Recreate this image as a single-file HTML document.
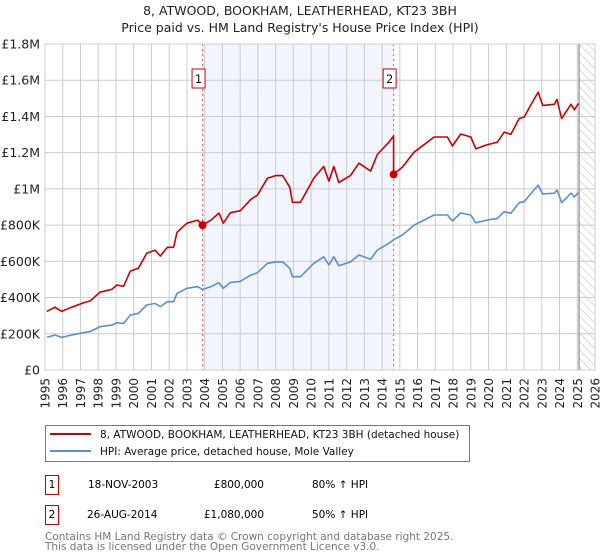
<!DOCTYPE html>
<html><head><meta charset="utf-8">
<style>
body{margin:0;background:#fff;font-family:"Liberation Sans","DejaVu Sans",sans-serif;}
#wrap{position:relative;width:600px;height:560px;overflow:hidden;}
svg text{font-family:"DejaVu Sans","Liberation Sans",sans-serif;}
</style></head>
<body>
<div id="wrap">
<svg id="chart" width="600" height="560" xmlns="http://www.w3.org/2000/svg">
<defs>
<pattern id="hatch" patternUnits="userSpaceOnUse" width="6" height="6" patternTransform="rotate(-45)">
<line x1="0" y1="0" x2="0" y2="6" stroke="#bbb" stroke-width="1"/>
</pattern>
</defs>
<text x="300" y="15" text-anchor="middle" font-size="12.5" fill="#222">8, ATWOOD, BOOKHAM, LEATHERHEAD, KT23 3BH</text>
<text x="300" y="32" text-anchor="middle" font-size="12.5" fill="#222">Price paid vs. HM Land Registry's House Price Index (HPI)</text>
<g id="plot"></g>
<rect x="45.5" y="425.5" width="424" height="36" fill="#fff" stroke="#777" stroke-width="1"/>
<line x1="50" y1="434" x2="91" y2="434" stroke="#cc0000" stroke-width="2"/>
<text x="100" y="438" font-size="10.5" fill="#111">8, ATWOOD, BOOKHAM, LEATHERHEAD, KT23 3BH (detached house)</text>
<line x1="50" y1="451" x2="91" y2="451" stroke="#5b8dd6" stroke-width="2"/>
<text x="100" y="455" font-size="10.5" fill="#111">HPI: Average price, detached house, Mole Valley</text>
<g>
<rect x="45.5" y="475.5" width="13" height="19" fill="#fff" stroke="#cc0000"/>
<text x="52" y="488" text-anchor="middle" font-size="10.5">1</text>
<text x="88" y="488" font-size="10.5">18-NOV-2003</text>
<text x="264" y="488" text-anchor="end" font-size="10.5">£800,000</text>
<text x="312" y="488" font-size="10.5">80% ↑ HPI</text>
</g>
<g>
<rect x="45.5" y="505.5" width="13" height="19" fill="#fff" stroke="#cc0000"/>
<text x="52" y="518" text-anchor="middle" font-size="10.5">2</text>
<text x="87" y="518" font-size="10.5">26-AUG-2014</text>
<text x="264" y="518" text-anchor="end" font-size="10.5">£1,080,000</text>
<text x="312" y="518" font-size="10.5">50% ↑ HPI</text>
</g>
<text x="45" y="540" font-size="10.5" fill="#777">Contains HM Land Registry data © Crown copyright and database right 2025.</text>
<text x="45" y="550" font-size="10.5" fill="#777">This data is licensed under the Open Government Licence v3.0.</text>
</svg>
</div>
<script>
const hpiYears=[1995.1,1995.56,1995.94,1996.5,1997.16,1997.54,1998.1,1998.77,1999.05,1999.43,1999.8,2000.27,2000.74,2001.2,2001.5,2001.9,2002.25,2002.44,2003.0,2003.6,2003.88,2004.35,2004.8,2005.05,2005.45,2006.0,2006.6,2006.97,2007.54,2008.0,2008.4,2008.8,2008.95,2009.4,2010.15,2010.71,2011.0,2011.28,2011.56,2012.22,2012.69,2013.35,2013.73,2014.39,2014.67,2015.14,2015.8,2016.17,2016.93,2017.68,2017.96,2018.43,2019.0,2019.28,2019.94,2020.5,2020.88,2021.26,2021.73,2022.01,2022.39,2022.8,2023.05,2023.71,2023.86,2024.12,2024.65,2024.84,2025.06];
const hpiValues=[180000,193000,180000,193000,206000,212000,239000,248000,261000,257000,303000,313000,359000,368000,350000,377000,377000,423000,451000,460000,445000,460000,482000,451000,483000,489000,524000,537000,589000,597000,597000,561000,515000,515000,589000,625000,580000,625000,576000,597000,635000,611000,662000,700000,720000,745000,800000,818000,856000,856000,823000,867000,856000,813000,828000,837000,874000,866000,924000,929000,975000,1021000,972000,976000,994000,924000,976000,956000,979000];
const saleYears=[2003.88,2014.65];
const salePrices=[800000,1080000];
const saleLabels=["1","2"];
const yTicks=[0,200000,400000,600000,800000,1000000,1200000,1400000,1600000,1800000];
const yTickLabels=["£0","£200K","£400K","£600K","£800K","£1M","£1.2M","£1.4M","£1.6M","£1.8M"];
const xTicks=[1995,1996,1997,1998,1999,2000,2001,2002,2003,2004,2005,2006,2007,2008,2009,2010,2011,2012,2013,2014,2015,2016,2017,2018,2019,2020,2021,2022,2023,2024,2025,2026];
const forecastStart=2025.1;

const X0=45,X1=595,Y0=370,Y1=44,xmin=1995,xmax=2026,ymax=1800000;
const xs=v=>X0+(v-xmin)/(xmax-xmin)*(X1-X0);
const ys=v=>Y0-v/ymax*(Y0-Y1);
const NS="http://www.w3.org/2000/svg";
const g=document.getElementById('plot');
function mk(tag,attrs,parent){const e=document.createElementNS(NS,tag);for(const k in attrs)e.setAttribute(k,attrs[k]);(parent||g).appendChild(e);return e;}
function hpiAt(t){for(let i=0;i<hpiYears.length-1;i++){if(t>=hpiYears[i]&&t<=hpiYears[i+1]){const f=(t-hpiYears[i])/(hpiYears[i+1]-hpiYears[i]);return hpiValues[i]+f*(hpiValues[i+1]-hpiValues[i]);}}return t<hpiYears[0]?hpiValues[0]:hpiValues[hpiValues.length-1];}

let r=mk('rect',{x:xs(saleYears[0]),y:Y1,width:xs(saleYears[1])-xs(saleYears[0]),height:Y0-Y1,fill:'#f2f5fd'});


xTicks.forEach((t,i)=>{
 const l=mk('line',{x1:xs(t),x2:xs(t),y1:Y1,y2:Y0,stroke:'#cccccc','stroke-width':1});
 
 
 const tx=mk('text',{x:0,y:0,'font-size':12,'text-anchor':'end',fill:'#222',transform:`translate(${xs(t)+4.5},${Y0+8}) rotate(-90)`});
 tx.textContent=t;
 
 
});
yTicks.forEach((t,i)=>{
 const l=mk('line',{x1:X0,x2:X1,y1:ys(t),y2:ys(t),stroke:'#cccccc','stroke-width':1});
 
 
 const tx=mk('text',{x:40,y:ys(t)+4.5,'font-size':12.5,'text-anchor':'end',fill:'#222'});
 tx.textContent=yTickLabels[i];
 
 
});
let h=mk('rect',{x:xs(forecastStart),y:Y1,width:X1-xs(forecastStart),height:Y0-Y1,fill:'url(#hatch)'});


let hl=mk('line',{x1:xs(forecastStart),x2:xs(forecastStart),y1:Y1,y2:Y0,stroke:'#888','stroke-width':1.2});



saleYears.forEach((s,i)=>{
 const l=mk('line',{x1:xs(s),x2:xs(s),y1:Y1,y2:Y0,stroke:'#ee5555','stroke-width':1,'stroke-dasharray':'2,3'});
 
 
});

let d='';hpiYears.forEach((t,i)=>{d+=(i?'L':'M')+xs(t).toFixed(1)+','+ys(hpiValues[i]).toFixed(1);});
let hp=mk('path',{d:d,fill:'none',stroke:'#5b8dd6','stroke-width':1.6,'stroke-linejoin':'round'});



const r0=salePrices[0]/hpiAt(saleYears[0]);
const r1=salePrices[1]/hpiAt(saleYears[1]);
let pts=[];
hpiYears.forEach((t,i)=>{ if(t<saleYears[1]) pts.push([t,hpiValues[i]*r0]); });
pts.push([saleYears[1],hpiAt(saleYears[1])*r0]);
pts.push([saleYears[1],salePrices[1]]);
hpiYears.forEach((t,i)=>{ if(t>saleYears[1]) pts.push([t,hpiValues[i]*r1]); });
let d2='';pts.forEach((p,i)=>{d2+=(i?'L':'M')+xs(p[0]).toFixed(1)+','+ys(p[1]).toFixed(1);});
let pp=mk('path',{d:d2,fill:'none',stroke:'#cc0000','stroke-width':1.6,'stroke-linejoin':'round'});



saleYears.forEach((s,i)=>{
 const c=mk('circle',{cx:xs(s),cy:ys(salePrices[i]),r:4,fill:'#cc0000'});
 
 
 const b=mk('rect',{x:xs(s)-10.5,y:69,width:13,height:19,fill:'#fff',stroke:'#cc0000'});
 
 
 const t=mk('text',{x:xs(s)-4,y:83,'font-size':11.5,'text-anchor':'middle',fill:'#111'});
 t.textContent=saleLabels[i];
 
 
});
let fr=mk('rect',{x:X0,y:Y1,width:X1-X0,height:Y0-Y1,fill:'none',stroke:'#cccccc'});


</script>
</body></html>
